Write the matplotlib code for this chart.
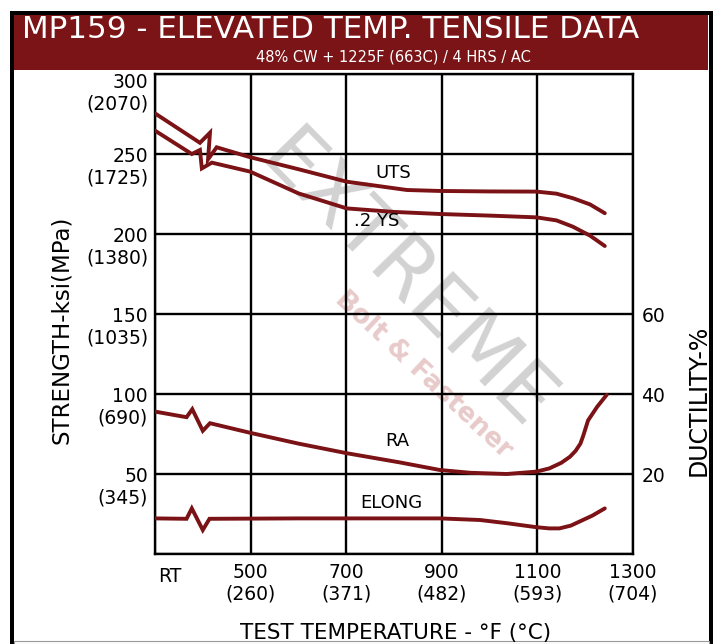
import matplotlib.pyplot as plt
from matplotlib.patches import Rectangle

##data (x = test temp in F, RT drawn at 300)
##strength in ksi, ductility in %

uts_temp = [300, 394, 415, 411, 429, 499, 600, 701, 827, 896, 1000, 1098, 1140, 1175, 1210, 1241]
uts_ksi = [275.4, 257.0, 263.3, 246.7, 254.2, 248.0, 240.5, 232.7, 227.5, 226.9, 226.6, 226.5, 225.2, 222.3, 218.5, 213.0]

ys_temp = [300, 377, 394, 398, 419, 499, 600, 701, 800, 896, 1000, 1098, 1140, 1174, 1210, 1241]
ys_ksi = [264.6, 250.0, 252.5, 241.0, 244.6, 239.0, 225.4, 216.0, 213.8, 212.5, 211.5, 210.4, 208.5, 204.6, 199.0, 192.5]

ra_temp = [300, 366, 378, 400, 415, 499, 600, 701, 812, 896, 960, 1036, 1098, 1125, 1150, 1168, 1180, 1190, 1196, 1206, 1225, 1245]
ra_pct = [35.6, 34.2, 36.2, 30.8, 32.7, 30.3, 27.6, 25.2, 22.9, 21.0, 20.3, 20.0, 20.6, 21.4, 22.8, 24.3, 25.8, 27.6, 29.6, 33.4, 36.8, 39.8]

el_temp = [300, 366, 377, 400, 414, 600, 800, 896, 980, 1036, 1098, 1125, 1146, 1170, 1188, 1215, 1241]
el_pct = [8.9, 8.8, 11.4, 6.0, 8.8, 8.9, 8.9, 8.9, 8.5, 7.7, 6.7, 6.4, 6.4, 7.1, 8.1, 9.6, 11.4]

temp_ticks = [500, 700, 900, 1100, 1300]
temp_c = ["(260)", "(371)", "(482)", "(593)", "(704)"]
ksi_ticks = [50, 100, 150, 200, 250, 300]
mpa_labels = ["(345)", "(690)", "(1035)", "(1380)", "(1725)", "(2070)"]
duct_ticks = [20, 40, 60]

red = "#7b1216"
banner = "#7a1416"

fig = plt.figure(figsize=(7.15, 6.44), dpi=100)

def fx(px):
    return px / 715.0

def fy(py):
    return 1 - py / 644.0

##frame and title banner
fig.patches.append(Rectangle((fx(13), fy(70)), fx(708) - fx(13), fy(14) - fy(70),
                             transform=fig.transFigure, facecolor=banner, edgecolor="none", zorder=0))
fig.patches.append(Rectangle((fx(10), 0), fx(4), fy(11), transform=fig.transFigure,
                             facecolor="black", zorder=1))
fig.patches.append(Rectangle((fx(709), 0), fx(4), fy(11), transform=fig.transFigure,
                             facecolor="black", zorder=1))
fig.patches.append(Rectangle((fx(10), fy(15)), fx(703), fy(11) - fy(15), transform=fig.transFigure,
                             facecolor="black", zorder=1))
fig.patches.append(Rectangle((fx(14), 0), fx(695), fy(641), transform=fig.transFigure,
                             facecolor="none", edgecolor="#999999", lw=0.8, zorder=1))

fig.text(fx(22), fy(29.5), "MP159 - ELEVATED TEMP. TENSILE DATA", color="white",
         fontsize=22.3, va="center", ha="left", family="DejaVu Sans")
fig.text(fx(393), fy(57.5), "48% CW + 1225F (663C) / 4 HRS / AC", color="white",
         fontsize=10.5, va="center", ha="center", family="DejaVu Sans")

ax = fig.add_axes([fx(155), fy(554), fx(633) - fx(155), fy(74) - fy(554)])
ax.set_xlim(300, 1300)
ax.set_ylim(0, 300)
ax.set_xticks([300] + temp_ticks)
ax.set_yticks([0] + ksi_ticks)
ax.grid(True, color="black", lw=1.7, zorder=2)
ax.tick_params(length=0, labelbottom=False, labelleft=False)
for s in ax.spines.values():
    s.set_linewidth(1.7)
    s.set_zorder(3)

##watermark
ax.text(823, 170, "EXTREME", rotation=-45.5, rotation_mode="anchor", ha="center", va="center",
        fontsize=58, color="#d2d2d2", zorder=1)
ax.text(862, 112, "Bolt & Fastener", rotation=-43, rotation_mode="anchor", ha="center", va="center",
        fontsize=19, fontweight="bold", color="#e8caca", zorder=1)

ax.plot(uts_temp, uts_ksi, color=red, lw=2.8, zorder=5, solid_joinstyle="miter", solid_capstyle="round")
ax.plot(ys_temp, ys_ksi, color=red, lw=2.8, zorder=5, solid_joinstyle="miter", solid_capstyle="round")

ax2 = ax.twinx()
ax2.set_ylim(0, 120)
ax2.set_yticks(duct_ticks)
ax2.tick_params(length=0, pad=6, labelsize=13.5)
for s in ax2.spines.values():
    s.set_visible(False)
ax2.plot(ra_temp, ra_pct, color=red, lw=2.8, zorder=5, solid_joinstyle="miter", solid_capstyle="round")
ax2.plot(el_temp, el_pct, color=red, lw=2.8, zorder=5, solid_joinstyle="miter", solid_capstyle="round")

##curve names
ax.text(798, 238, "UTS", fontsize=13, ha="center", va="center", zorder=6)
ax.text(764, 208, ".2 YS", fontsize=13, ha="center", va="center", zorder=6)
ax.text(806, 70.5, "RA", fontsize=13, ha="center", va="center", zorder=6)
ax.text(794, 32, "ELONG", fontsize=13, ha="center", va="center", zorder=6)

##left tick labels (ksi with MPa under)
for v, m in zip(ksi_ticks, mpa_labels):
    dy = -6 if v == 300 else -1.5
    ax.annotate(str(v), xy=(0, v), xycoords=("axes fraction", "data"), xytext=(-5, dy),
                textcoords="offset points", ha="right", va="center", fontsize=13.5)
    ax.annotate(m, xy=(0, v), xycoords=("axes fraction", "data"), xytext=(-5, dy - 15.5),
                textcoords="offset points", ha="right", va="center", fontsize=13.5)

##bottom tick labels
for t, c in zip(temp_ticks, temp_c):
    ax.annotate(str(t), xy=(t, 0), xycoords=("data", "axes fraction"), xytext=(0, -13),
                textcoords="offset points", ha="center", va="center", fontsize=13.5)
    ax.annotate(c, xy=(t, 0), xycoords=("data", "axes fraction"), xytext=(0, -28.5),
                textcoords="offset points", ha="center", va="center", fontsize=13.5)
ax.annotate("RT", xy=(331, 0), xycoords=("data", "axes fraction"), xytext=(0, -16.5),
            textcoords="offset points", ha="center", va="center", fontsize=13.5)

fig.text(fx(62), fy(330), "STRENGTH-ksi(MPa)", rotation=90, ha="center", va="center", fontsize=16.5)
fig.text(fx(699), fy(400), "DUCTILITY-%", rotation=90, ha="center", va="center", fontsize=17)
fig.text(fx(396), fy(633), "TEST TEMPERATURE - °F (°C)", ha="center", va="center", fontsize=15.5)

fig.savefig("out.png", dpi=100)
